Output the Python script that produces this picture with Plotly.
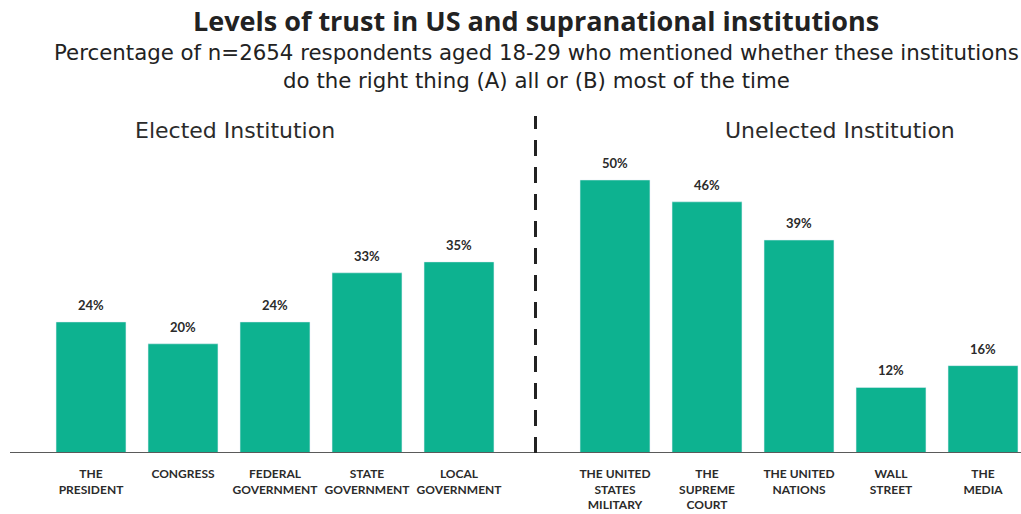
import plotly.graph_objects as go

elected_labels = ["THE<br>PRESIDENT", "CONGRESS", "FEDERAL<br>GOVERNMENT", "STATE<br>GOVERNMENT", "LOCAL<br>GOVERNMENT"]
elected_values = [24, 20, 24, 33, 35]
unelected_labels = ["THE UNITED<br>STATES<br>MILITARY", "THE<br>SUPREME<br>COURT", "THE UNITED<br>NATIONS", "WALL<br>STREET", "THE<br>MEDIA"]
unelected_values = [50, 46, 39, 12, 16]

W, H = 1021, 514
BAR = "#0db290"
FONT = "Lato"
TXT = "#2b2b2b"

fig = go.Figure()
fig.add_trace(go.Bar(x=elected_labels, y=elected_values, marker_color=BAR,
                     xaxis="x", yaxis="y", showlegend=False, hoverinfo="x+y"))
fig.add_trace(go.Bar(x=unelected_labels, y=unelected_values, marker_color=BAR,
                     xaxis="x2", yaxis="y2", showlegend=False, hoverinfo="x+y"))

annotations = []
for labs, vals, xr, yr in [(elected_labels, elected_values, "x", "y"),
                           (unelected_labels, unelected_values, "x2", "y2")]:
    for l, v in zip(labs, vals):
        annotations.append(dict(x=l, y=v, xref=xr, yref=yr, text=f"{v}%",
                                showarrow=False, yanchor="bottom", yshift=7,
                                font=dict(family=FONT, size=13, color=TXT, weight="bold")))

annotations += [
    dict(x=536 / W, y=1 - 21 / H, xref="paper", yref="paper", xanchor="center",
         text="<b>Levels of trust in US and supranational institutions</b>",
         showarrow=False, font=dict(family="Open Sans", size=27, color="#222"), yanchor="middle"),
    dict(x=536 / W, y=1 - 66 / H, xref="paper", yref="paper", xanchor="center",
         text="Percentage of n=2654 respondents aged 18-29 who mentioned whether these institutions<br>do the right thing (A) all or (B) most of the time",
         showarrow=False, font=dict(family="DejaVu Sans", size=21.3, color="#222"), yanchor="middle"),
    dict(x=235 / W, y=1 - 130 / H, xref="paper", yref="paper", xanchor="center", text="Elected Institution",
         showarrow=False, font=dict(family="DejaVu Sans", size=22, color=TXT), yanchor="middle"),
    dict(x=840 / W, y=1 - 130 / H, xref="paper", yref="paper", xanchor="center", text="Unelected Institution",
         showarrow=False, font=dict(family="DejaVu Sans", size=22, color=TXT), yanchor="middle"),
]

ytop = 110
yrange = [0, (453 - ytop) / 5.46]
ydom = [(H - 453) / H, (H - ytop) / H]

tickfont = dict(family=FONT, size=12, color=TXT, weight="bold")
fig.update_layout(
    width=W, height=H,
    margin=dict(l=0, r=0, t=0, b=0),
    paper_bgcolor="white", plot_bgcolor="white",
    bargap=0.24,
    xaxis=dict(domain=[45 / W, 505 / W], showgrid=False, showline=False, zeroline=False,
               tickfont=tickfont, ticks="", ticklabelstandoff=12),
    xaxis2=dict(domain=[569 / W, 1.0], range=[-0.5, -0.5 + (W - 569) / 92], showgrid=False,
                showline=False, zeroline=False, tickfont=tickfont, ticks="", ticklabelstandoff=12),
    yaxis=dict(domain=ydom, range=yrange, visible=False),
    yaxis2=dict(domain=ydom, range=yrange, visible=False, anchor="x2"),
    annotations=annotations,
    shapes=[
        dict(type="line", xref="paper", yref="y", x0=10 / W, x1=1, y0=0, y1=0,
             line=dict(color="#5a5a5a", width=2)),
        dict(type="line", xref="paper", yref="paper", x0=535.5 / W, x1=535.5 / W,
             y0=(H - 453) / H, y1=(H - 116) / H,
             line=dict(color="#222", width=3, dash="16px,11px")),
    ],
)
fig.write_html("out.html")
